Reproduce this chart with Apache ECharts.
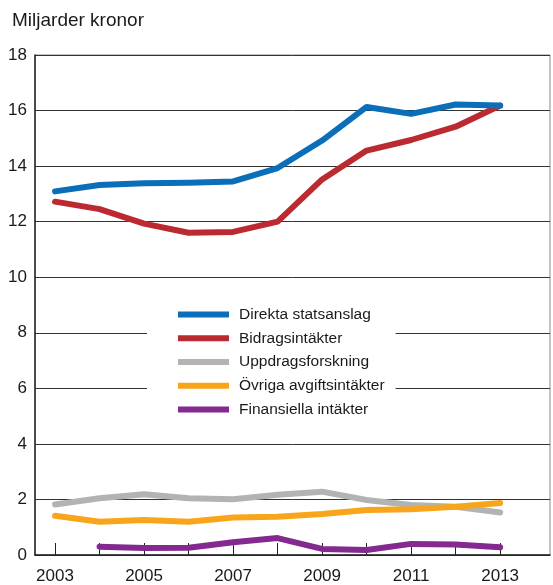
<!DOCTYPE html>
<html><head><meta charset="utf-8">
<script src="https://cdn.jsdelivr.net/npm/echarts@6/dist/echarts.min.js"></script>
<style>html,body{margin:0;padding:0;background:#fff}#c{width:553px;height:585px}</style>
</head><body><div id="c"></div>
<script>
const years = [2003,2004,2005,2006,2007,2008,2009,2010,2011,2012,2013];
const labelYears = [2003,2005,2007,2009,2011,2013];
const yTicks = [0,2,4,6,8,10,12,14,16,18];
const direkta = [13.09,13.32,13.38,13.4,13.45,13.93,14.92,16.13,15.88,16.22,16.18];
const bidrag = [12.72,12.45,11.93,11.6,11.63,12.0,13.52,14.56,14.94,15.42,16.18];
const uppdrag = [1.82,2.04,2.19,2.04,2.01,2.17,2.28,1.98,1.8,1.74,1.53];
const ovriga = [1.41,1.2,1.26,1.2,1.35,1.38,1.48,1.62,1.65,1.74,1.87];
const finans = [null,0.3,0.25,0.26,0.46,0.61,0.22,0.18,0.4,0.38,0.28];
const names = ['Direkta statsanslag','Bidragsintäkter','Uppdragsforskning','Övriga avgiftsintäkter','Finansiella intäkter'];
const colors = ['#0a6fb8','#bb2a30','#b1b3b5','#f9a51c','#84298f'];
const seriesData = [direkta,bidrag,uppdrag,ovriga,finans];
const zs = [7,6,3,4,5];

const font = 'Liberation Sans, Arial, Helvetica, sans-serif';
const chart = echarts.init(document.getElementById('c'), null, {renderer:'canvas'});
chart.setOption({
  animation:false,
  backgroundColor:'#fff',
  title:{text:'Miljarder kronor',left:7,top:6,textStyle:{fontFamily:font,fontSize:19,fontWeight:'normal',color:'#1a1a1a'}},
  grid:{left:35,right:3,top:55,bottom:29,show:true,borderColor:'#8a8a8a',borderWidth:1,backgroundColor:'transparent'},
  xAxis:{type:'value',min:2002.55,max:2014.12,
    axisLine:{show:true,onZero:false,lineStyle:{color:'#222',width:1.5}},
    axisTick:{show:true,inside:true,length:12,customValues:years,lineStyle:{color:'#222',width:1}},
    axisLabel:{customValues:labelYears,margin:13,fontFamily:font,fontSize:17,color:'#1a1a1a',formatter:v=>String(Math.round(v))},
    splitLine:{show:false}},
  yAxis:{type:'value',min:0,max:18,interval:2,
    axisLine:{show:true,lineStyle:{color:'#222',width:1.5}},
    axisTick:{show:false},
    axisLabel:{margin:8,fontFamily:font,fontSize:17,color:'#1a1a1a'},
    splitLine:{show:true,lineStyle:{color:'#333',width:1}}},
  legend:{orient:'vertical',left:147,top:294,
    padding:[12,11,12,31],itemGap:6.75,itemWidth:51,itemHeight:6,icon:'rect',
    backgroundColor:'#fff',
    textStyle:{fontFamily:font,fontSize:15.5,color:'#1a1a1a',lineHeight:17,padding:[0,0,0,5]},
    data:names},
  series:seriesData.map((d,i)=>({
    name:names[i],type:'line',z:zs[i],
    data:years.map((y,j)=>[y,d[j]]),
    showSymbol:false,symbol:'none',connectNulls:false,
    lineStyle:{color:colors[i],width:6,cap:'round',join:'round'},
    itemStyle:{color:colors[i]}
  }))
});
</script></body></html>
